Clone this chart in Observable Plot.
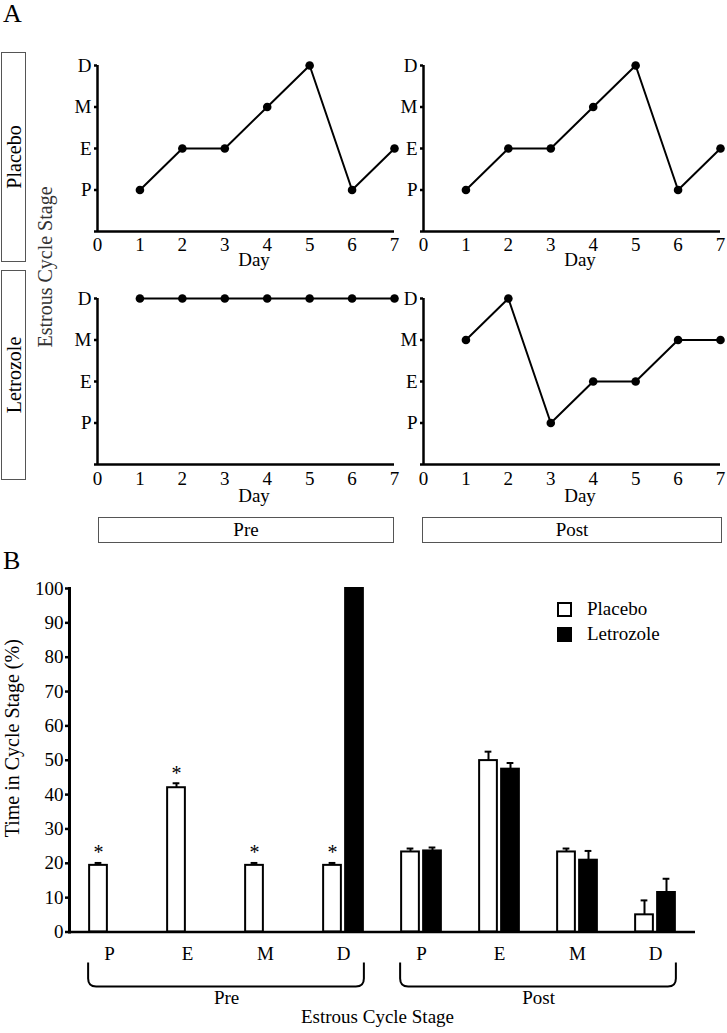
<!DOCTYPE html>
<html><head><meta charset="utf-8">
<script src="https://cdn.jsdelivr.net/npm/d3@7"></script>
<script src="https://cdn.jsdelivr.net/npm/@observablehq/plot@0.6"></script>
<style>
body{margin:0;background:#fff;}
#root{position:relative;width:727px;height:1033px;overflow:hidden;font-family:"Liberation Serif",Tinos,"Times New Roman",Times,"DejaVu Serif","Noto Serif",serif;color:#000;background:#fff;}
.abs{position:absolute;}
.box{position:absolute;border:1.5px solid #555;box-sizing:border-box;}
.vtext{position:absolute;left:50%;top:50%;transform:translate(-50%,-50%) rotate(-90deg);white-space:nowrap;}
.hbox{display:flex;align-items:center;justify-content:center;}
[aria-label="y-axis tick"]{stroke-width:2.5px;}
</style>
</head><body><div id="root"></div>
<script>
// ---------- data ----------
const days = [1, 2, 3, 4, 5, 6, 7];
const dayTicks = [0, 1, 2, 3, 4, 5, 6, 7];
const stageLevels = ["", "P", "E", "M", "D"];
const placeboPre = ["P", "E", "E", "M", "D", "P", "E"];
const placeboPost = ["P", "E", "E", "M", "D", "P", "E"];
const letrozolePre = ["D", "D", "D", "D", "D", "D", "D"];
const letrozolePost = ["M", "D", "P", "E", "E", "M", "M"];

const periods = ["Pre", "Post"];
const stages = ["P", "E", "M", "D"];
const treatments = ["Placebo", "Letrozole"];
const placeboMean = [19.4, 42.0, 19.4, 19.4, 23.3, 49.9, 23.3, 5.0];
const placeboSEM = [0.7, 1.3, 0.7, 0.7, 1.0, 2.6, 1.0, 4.2];
const letrozoleMean = [0, 0, 0, 100, 23.6, 47.4, 20.9, 11.5];
const letrozoleSEM = [0, 0, 0, 0, 1.0, 1.8, 2.7, 4.0];
const placeboStar = [true, true, true, true, false, false, false, false];
const yTicksB = [0, 10, 20, 30, 40, 50, 60, 70, 80, 90, 100];

// ---------- helpers ----------
const FONT = '"Liberation Serif",Tinos,"Times New Roman",Times,"DejaVu Serif","Noto Serif",serif';
const root = document.getElementById("root");
function place(node, left, top) {
  const d = document.createElement("div");
  d.className = "abs"; d.style.left = left + "px"; d.style.top = top + "px";
  d.appendChild(node); root.appendChild(d); return d;
}
function html(str) { const t = document.createElement("template"); t.innerHTML = str.trim(); return t.content.firstChild; }

// ---------- Panel A ----------
function stagePlot(seq, width, tickPad, dayDy) {
  const rows = days.map((d, i) => ({day: d, stage: stageLevels.indexOf(seq[i])}));
  return Plot.plot({
    width, height: 224,
    marginLeft: 26, marginRight: width - 26 - 297, marginTop: 16, marginBottom: 42,
    style: {fontFamily: FONT, fontSize: "19px", color: "#000", background: "transparent", overflow: "visible"},
    x: {domain: [0, 7], ticks: dayTicks, tickFormat: d => String(d), tickSize: 0, tickPadding: tickPad, label: null},
    y: {domain: [0, 4], ticks: [0, 1, 2, 3, 4], tickFormat: i => stageLevels[i], tickSize: 3, tickPadding: 3, label: null},
    marks: [
      Plot.ruleX([0], {strokeWidth: 2.5}),
      Plot.ruleY([0], {strokeWidth: 2.5}),
      Plot.line(rows, {x: "day", y: "stage", stroke: "black", strokeWidth: 2}),
      Plot.dot(rows, {x: "day", y: "stage", r: 4.3, fill: "black"}),
      Plot.text(["Day"], {text: d => d, frameAnchor: "bottom", lineAnchor: "top", dx: 8, dy: dayDy, fontSize: 19})
    ]
  });
}
place(stagePlot(placeboPre, 331, 6, 21), 71, 49);
place(stagePlot(placeboPost, 329, 6, 21), 397, 49);
place(stagePlot(letrozolePre, 331, 7, 24), 71, 282);
place(stagePlot(letrozolePost, 329, 7, 24), 397, 282);

root.appendChild(html(`<div class="abs" style="left:3px;top:1px;font-size:26px;line-height:26px;">A</div>`));
root.appendChild(html(`<div class="box" style="left:1px;top:52px;width:25px;height:210px;"><span class="vtext" style="font-size:20px;">Placebo</span></div>`));
root.appendChild(html(`<div class="box" style="left:1px;top:270px;width:25px;height:210px;"><span class="vtext" style="font-size:20px;">Letrozole</span></div>`));
root.appendChild(html(`<div class="abs" style="left:45px;top:267px;width:0;height:0;"><span class="vtext" style="font-size:20px;color:#333;">Estrous Cycle Stage</span></div>`));
root.appendChild(html(`<div class="box hbox" style="left:98px;top:517px;width:296px;height:26px;font-size:19px;">Pre</div>`));
root.appendChild(html(`<div class="box hbox" style="left:422px;top:517px;width:300px;height:26px;font-size:19px;">Post</div>`));

// ---------- Panel B ----------
const groupKeys = periods.flatMap(p => stages.map(s => `${p} ${s}`));
const rowsB = [];
groupKeys.forEach((k, i) => {
  rowsB.push({group: k, treatment: "Placebo", mean: placeboMean[i], top: placeboMean[i] + placeboSEM[i], sem: placeboSEM[i], star: placeboStar[i]});
  rowsB.push({group: k, treatment: "Letrozole", mean: letrozoleMean[i], top: letrozoleMean[i] + letrozoleSEM[i], sem: letrozoleSEM[i], star: false});
});
const plac = rowsB.filter(d => d.treatment === "Placebo");
const letr = rowsB.filter(d => d.treatment === "Letrozole" && d.mean > 0);
const placErr = plac.filter(d => d.sem > 0);
const letrErr = letr.filter(d => d.sem > 0);
const BW = 626 / 8;           // band width given the frame
const OUT = BW / 2 - 20, INN = BW / 2 + 2;   // bar insets
const CAPO = BW / 2 - 14.5, CAPI = BW / 2 + 7.5;

function brackets(index, scales) {
  const x = scales.x, y0 = scales.y(0);
  const bw = x(groupKeys[1]) - x(groupKeys[0]);
  const g = d3.create("svg:g").attr("fill", "none").attr("stroke", "black").attr("stroke-width", 2);
  for (const p of periods) {
    const keys = groupKeys.filter(k => k.startsWith(p + " "));
    const x1 = x(keys[0]) + OUT - 1, x2 = x(keys[keys.length - 1]) + bw - OUT + 1;
    const yt = y0 + 31, yb = y0 + 55, r = 8;
    g.append("path").attr("d",
      `M${x1},${yt} L${x1},${yb - r} Q${x1},${yb} ${x1 + r},${yb} L${x2 - r},${yb} Q${x2},${yb} ${x2},${yb - r} L${x2},${yt}`);
  }
  return g.node();
}

const periodLabels = periods.map(p => ({key: `${p} E`, label: p}));

const chartB = Plot.plot({
  width: 727, height: 458,
  marginLeft: 69, marginRight: 32, marginTop: 13, marginBottom: 101.5,
  style: {fontFamily: FONT, fontSize: "19px", color: "#000", background: "transparent", overflow: "visible"},
  x: {domain: groupKeys, padding: 0, tickFormat: k => k.split(" ")[1], tickSize: 0, tickPadding: 14, label: null},
  y: {domain: [0, 100], ticks: yTicksB, tickFormat: d => String(d), tickSize: 4, tickPadding: 2, label: null},
  marks: [
    Plot.barY(plac, {x: "group", y: "mean", fill: "white", stroke: "black", strokeWidth: 2, insetLeft: OUT, insetRight: INN}),
    Plot.barY(letr, {x: "group", y: "mean", fill: "black", stroke: "black", strokeWidth: 2, insetLeft: INN, insetRight: OUT}),
    Plot.ruleX(placErr, {x: "group", y1: "mean", y2: "top", dx: -11, strokeWidth: 2}),
    Plot.ruleX(letrErr, {x: "group", y1: "mean", y2: "top", dx: 11, strokeWidth: 2}),
    Plot.tickY(placErr, {x: "group", y: "top", insetLeft: CAPO, insetRight: CAPI, strokeWidth: 2}),
    Plot.tickY(letrErr, {x: "group", y: "top", insetLeft: CAPI, insetRight: CAPO, strokeWidth: 2}),
    Plot.text(plac.filter(d => d.star), {x: "group", y: "top", text: () => "*", dx: -11, dy: -10, fontSize: 20}),
    Plot.ruleY([0], {strokeWidth: 2.5}),
    Plot.frame({anchor: "left", strokeWidth: 3}),
    brackets,
    Plot.text(periodLabels, {x: "key", text: "label", frameAnchor: "bottom", dx: BW / 2, dy: 71.5, fontSize: 19}),
    Plot.text(["Estrous Cycle Stage"], {text: d => d, frameAnchor: "bottom", dy: 90.5, dx: -5, fontSize: 19}),
    Plot.text(["Time in Cycle Stage (%)"], {text: d => d, frameAnchor: "left", textAnchor: "middle", rotate: -90, dx: -56.5, dy: -22, fontSize: 20})
  ]
});
place(chartB, 0, 575);

root.appendChild(html(`<div class="abs" style="left:3px;top:548px;font-size:26px;line-height:26px;">B</div>`));
// legend
root.appendChild(html(`<div class="abs" style="left:557px;top:602px;width:15px;height:15px;box-sizing:border-box;border:2.5px solid #000;background:#fff;"></div>`));
root.appendChild(html(`<div class="abs" style="left:557px;top:627px;width:15px;height:15px;background:#000;"></div>`));
root.appendChild(html(`<div class="abs" style="left:587px;top:598px;font-size:19px;line-height:22px;">${treatments[0]}</div>`));
root.appendChild(html(`<div class="abs" style="left:587px;top:623px;font-size:19px;line-height:22px;">${treatments[1]}</div>`));
</script>
</body></html>
